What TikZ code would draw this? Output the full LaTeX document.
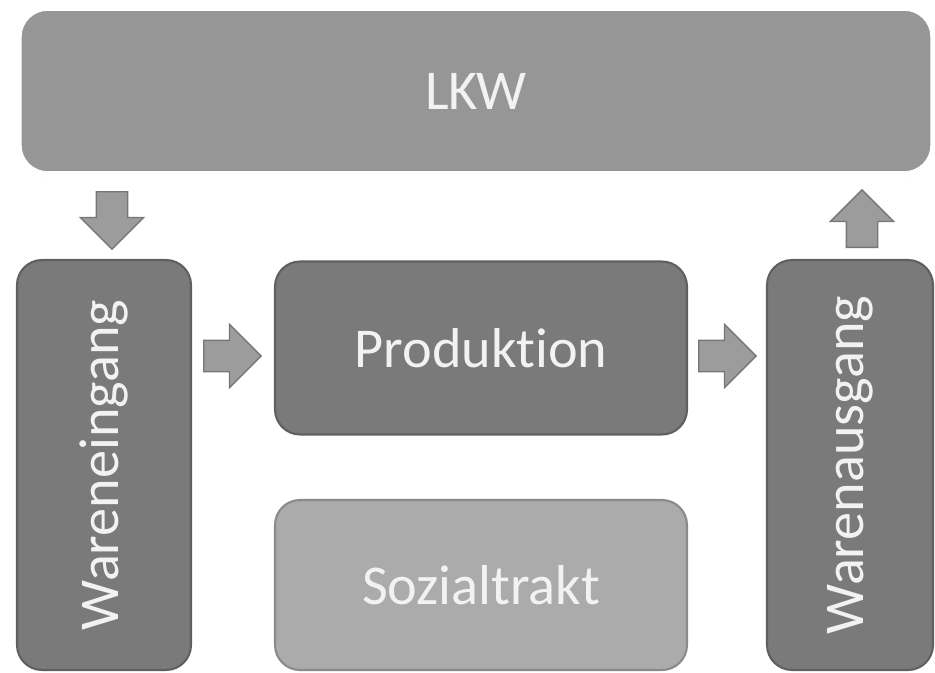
\documentclass[tikz,border=0pt]{standalone}
\usepackage{fontspec}
\setmainfont[Ligatures=NoCommon]{Carlito}
\usetikzlibrary{shapes.arrows}

\definecolor{lkwgray}{HTML}{969696}
\definecolor{darkbox}{HTML}{7A7A7A}
\definecolor{darkline}{HTML}{606060}
\definecolor{lightbox}{HTML}{ABABAB}
\definecolor{lightline}{HTML}{8A8A8A}
\definecolor{arrowfill}{HTML}{9C9C9C}
\definecolor{arrowline}{HTML}{777777}

\tikzset{
  room/.style={rectangle, rounded corners=0.5cm, line width=1.2pt,
    text=white!95!black, font=\fontsize{32}{38}\selectfont, inner sep=0pt},
  darkroom/.style={room, fill=darkbox, draw=darkline},
  lightroom/.style={room, fill=lightbox, draw=lightline},
  flowarrow/.style={single arrow, fill=arrowfill, draw=arrowline, line width=0.8pt,
    inner xsep=0pt, inner ysep=0.3cm, minimum height=1.15cm, minimum width=1.24cm,
    single arrow head extend=0.32cm, anchor=tail}
}

\begin{document}
\begin{tikzpicture}[x=0.02cm, y=-0.02cm]
	\useasboundingbox[fill=white] (0,0) rectangle (935,672);
	
	%%%%% truck %%%%%
	\draw[gray!30, line width=0.8pt, rounded corners=0.7cm] (14,4) rectangle (938,179);
	\node[room, fill=lkwgray, draw=white, line width=5pt, rounded corners=0.6cm,
	      minimum width=18.35cm, minimum height=3.38cm] (lkw) at (476,91) {LKW};
	
	%%%%% rooms %%%%%
	\node[darkroom, rotate=90, minimum width=8.2cm, minimum height=3.48cm] (weing) at (104,465) {Wareneingang};
	\node[darkroom, minimum width=8.24cm, minimum height=3.46cm] (prod) at (481,348) {Produktion};
	\node[lightroom, minimum width=8.24cm, minimum height=3.4cm] (sozial) at (481,585) {Sozialtrakt};
	\node[darkroom, rotate=90, minimum width=8.2cm, minimum height=3.32cm] (waus) at (850,465) {Warenausgang};
	
	%%%%% flow %%%%%
	\node[flowarrow, rotate=-90] (in) at (112,191) {};
	\node[flowarrow] (toprod) at (203,356) {};
	\node[flowarrow] (toout) at (698,356) {};
	\node[flowarrow, rotate=90] (out) at (862,248) {};
\end{tikzpicture}
\end{document}
